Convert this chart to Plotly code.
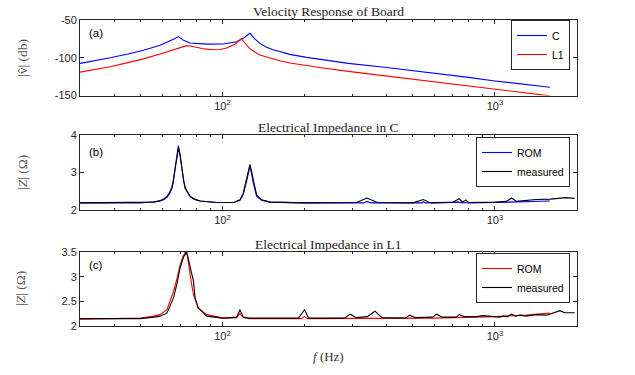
import plotly.graph_objects as go

# ---------------- data ----------------
# Panel (a): velocity response (dB)
fa_C = [30, 35, 38.7, 45, 51.3, 59, 64.2, 67, 68.9, 70.5, 72, 76, 87.5, 100.7, 112.7, 119.2, 123,
        126.1, 128.5, 131.4, 137.2, 145, 153.6, 176.7, 203.5, 234.2, 289.5, 400, 500, 650, 800,
        1000, 1250, 1590]
va_C = [-107.4, -103.5, -100, -95, -90, -83.5, -78, -74.5, -72, -75, -77, -80.5, -82, -81.7,
        -78.7, -74.3, -70.5, -67.5, -71, -75, -81, -86, -89.5, -95.5, -99.5, -103, -107.5, -113,
        -117, -122, -126, -130.7, -135, -139]
fa_L1 = [30, 35, 38.7, 45, 51.3, 59, 66.1, 70, 73.9, 77, 80.4, 86, 92.6, 98, 103.6, 111, 115.9,
         117.5, 119.5, 122.7, 126, 131.4, 137.2, 145.1, 153.6, 162.5, 176.7, 203.5, 234.2, 289.5,
         400, 500, 650, 800, 1000, 1250, 1590]
va_L1 = [-119, -115, -112, -106.5, -101.5, -95, -89, -86, -84, -84.8, -86.4, -88.3, -89.4, -89,
         -87.2, -82, -76.5, -74.8, -78.5, -84, -88, -92.3, -96.5, -99, -102, -104, -107, -110.5,
         -113.5, -118, -124, -128.5, -133.5, -137.5, -141.5, -146, -150.5]

# Panel (b): impedance in C
fb_rom = [30, 50, 56, 59, 61, 62.5, 64, 65.2, 66, 67, 68, 68.9, 69.8, 70.9, 72, 72.9, 74.5, 76,
          79, 82.8, 95, 110, 115.9, 119.2, 122.7, 124.5, 126.1, 127.8, 129.7, 133.4, 139.2,
          149.4, 200, 330, 339, 350, 540, 546, 555, 738, 760, 780, 800, 1000, 1150, 1300, 1590]
zb_rom = [2.19, 2.19, 2.22, 2.25, 2.3, 2.36, 2.47, 2.62, 2.8, 3.15, 3.5, 3.72, 3.5, 3.07, 2.78,
          2.58, 2.45, 2.36, 2.28, 2.24, 2.2, 2.2, 2.26, 2.42, 2.78, 2.98, 3.16, 2.98, 2.73, 2.37,
          2.26, 2.21, 2.19, 2.19, 2.23, 2.19, 2.19, 2.22, 2.19, 2.21, 2.19, 2.2, 2.19, 2.2, 2.21,
          2.22, 2.24]
fb_meas = [30, 50, 56, 59, 61, 62.5, 64, 65.2, 66, 67, 68, 68.9, 69.8, 70.9, 72, 72.9, 74.5, 76,
           79, 82.8, 95, 110, 115.9, 119.2, 122.7, 124.5, 126.1, 127.8, 129.7, 133.4, 139.2,
           149.4, 200, 310, 339, 370, 500, 546, 580, 700, 738, 760, 781, 800, 1000, 1100, 1151,
           1200, 1414, 1600, 1822, 1960]
zb_meas = [2.19, 2.19, 2.21, 2.24, 2.28, 2.34, 2.44, 2.58, 2.75, 3.08, 3.42, 3.65, 3.48, 3.08,
           2.8, 2.6, 2.46, 2.37, 2.29, 2.24, 2.2, 2.2, 2.27, 2.45, 2.85, 3.05, 3.22, 3.03, 2.78,
           2.4, 2.27, 2.21, 2.19, 2.2, 2.32, 2.2, 2.19, 2.28, 2.19, 2.2, 2.3, 2.21, 2.27, 2.2,
           2.21, 2.23, 2.32, 2.23, 2.28, 2.29, 2.33, 2.31]

# Panel (c): impedance in L1
fc_rom = [30, 50, 56, 59, 62.5, 66.1, 68, 69.9, 71.5, 73.3, 74.5, 76, 78.2, 81.5, 87.5, 100.7,
          112.7, 115.9, 119.2, 125, 195, 200, 205, 300, 600, 1000, 1300, 1590]
zc_rom = [2.14, 2.16, 2.2, 2.23, 2.33, 2.7, 2.95, 3.24, 3.4, 3.52, 3.4, 3.04, 2.64, 2.36, 2.23,
          2.16, 2.17, 2.25, 2.17, 2.15, 2.15, 2.19, 2.15, 2.15, 2.16, 2.19, 2.22, 2.26]
fc_meas = [30, 50, 56, 59, 62.5, 66.1, 68, 69.9, 72, 73.9, 75, 76, 77.5, 78.3, 79.3, 81.5, 83.9,
           87.5, 100, 112.7, 115.9, 119.2, 125, 190, 200, 207, 280, 294, 310, 340, 363, 385, 470,
           486, 510, 590, 611, 640, 720, 740, 770, 860, 903, 950, 1040, 1072, 1110, 1151, 1190,
           1234, 1300, 1414, 1550, 1730, 1800, 1960]
zc_meas = [2.15, 2.15, 2.18, 2.2, 2.26, 2.57, 2.85, 3.18, 3.4, 3.5, 3.35, 3.2, 2.99, 2.9, 2.57,
           2.36, 2.3, 2.2, 2.16, 2.18, 2.33, 2.18, 2.16, 2.16, 2.33, 2.16, 2.16, 2.24, 2.17, 2.19,
           2.3, 2.17, 2.16, 2.22, 2.17, 2.18, 2.24, 2.18, 2.18, 2.23, 2.19, 2.19, 2.21, 2.2, 2.18,
           2.2, 2.19, 2.24, 2.2, 2.22, 2.2, 2.23, 2.22, 2.31, 2.27, 2.27]

x_ticks = [100, 1000]
x_ticktext = ["10<sup>2</sup>", "10<sup>3</sup>"]
x_minor = [40, 50, 60, 70, 80, 90, 200, 300, 400, 500, 600, 700, 800, 900, 2000]

titles = ["Velocity Response of Board", "Electrical Impedance in C", "Electrical Impedance in L1"]
panel_tags = ["(a)", "(b)", "(c)"]

# ---------------- figure ----------------
fig = go.Figure()
lw = 1.1
fig.add_trace(go.Scatter(x=fa_C, y=va_C, mode="lines", name="C", line=dict(color="#0000FF", width=lw),
                         xaxis="x", yaxis="y", legend="legend"))
fig.add_trace(go.Scatter(x=fa_L1, y=va_L1, mode="lines", name="L1", line=dict(color="#FF0000", width=lw),
                         xaxis="x", yaxis="y", legend="legend"))
fig.add_trace(go.Scatter(x=fb_rom, y=zb_rom, mode="lines", name="ROM", line=dict(color="#0000FF", width=lw),
                         xaxis="x2", yaxis="y2", legend="legend2"))
fig.add_trace(go.Scatter(x=fb_meas, y=zb_meas, mode="lines", name="measured", line=dict(color="#000000", width=lw),
                         xaxis="x2", yaxis="y2", legend="legend2"))
fig.add_trace(go.Scatter(x=fc_rom, y=zc_rom, mode="lines", name="ROM", line=dict(color="#FF0000", width=lw),
                         xaxis="x3", yaxis="y3", legend="legend3"))
fig.add_trace(go.Scatter(x=fc_meas, y=zc_meas, mode="lines", name="measured", line=dict(color="#000000", width=lw),
                         xaxis="x3", yaxis="y3", legend="legend3"))

axcol = "#262626"
tickfont = dict(family="Liberation Sans, Arial", size=11, color="#262626")

def xax(domain_anchor):
    return dict(type="log", range=[1.4771, 3.3010], domain=[0, 1], anchor=domain_anchor,
                tickmode="array", tickvals=x_ticks, ticktext=x_ticktext,
                ticks="inside", ticklen=4, tickcolor=axcol, showline=True, linecolor=axcol,
                linewidth=1, mirror="ticks", showgrid=False, zeroline=False, tickfont=tickfont,
                minor=dict(ticks="inside", ticklen=2, tickcolor=axcol, tickmode="array",
                           tickvals=x_minor, showgrid=False))

def yax(dom, rng, tv, tt, xa):
    return dict(domain=dom, range=rng, anchor=xa, tickmode="array", tickvals=tv, ticktext=tt,
                ticks="inside", ticklen=4, tickcolor=axcol, showline=True, linecolor=axcol,
                linewidth=1, mirror="ticks", showgrid=False, zeroline=False, tickfont=tickfont)

H_T, H_B = 20, 49
ph = 375 - H_T - H_B
def clamp(v):
    return min(1.0, max(0.0, v))
def dom(top_px, bot_px):
    return [clamp((375 - H_B - bot_px) / ph), clamp((375 - H_B - top_px) / ph)]

fig.update_layout(
    width=635, height=375,
    margin=dict(l=80, r=58, t=H_T, b=H_B),
    paper_bgcolor="white", plot_bgcolor="white",
    xaxis=xax("y"), xaxis2=xax("y2"), xaxis3=xax("y3"),
    yaxis=yax(dom(20, 95.5), [-150, -50], [-150, -100, -50], ["-150", "-100", "-50"], "x"),
    yaxis2=yax(dom(135, 210), [2, 4], [2, 3, 4], ["2", "3", "4"], "x2"),
    yaxis3=yax(dom(252, 326), [2, 3.5], [2, 2.5, 3, 3.5], ["2", "2.5", "3", "3.5"], "x3"),
    showlegend=True,
)

def legend_at(top_px):
    return dict(x=(570 - 80) / 497, y=(375 - H_B - top_px) / ph, xanchor="right", yanchor="top",
                xref="paper", yref="paper", bgcolor="white", bordercolor=axcol, borderwidth=1,
                font=dict(family="Liberation Sans, Arial", size=10.5, color="#000"),
                tracegroupgap=0, itemwidth=30)

fig.update_layout(legend=legend_at(20), legend2=legend_at(137), legend3=legend_at(253))

serif = "Liberation Serif, Times New Roman, serif"
ann = []
for t, ypx in zip(titles, [11, 127, 244]):
    ann.append(dict(text=t, x=(328 - 80) / 497, y=(375 - H_B - ypx) / ph, xref="paper", yref="paper",
                    showarrow=False, font=dict(family=serif, size=13.5, color="#222"),
                    xanchor="center", yanchor="middle"))
for t, ypx in zip(panel_tags, [33, 152, 265]):
    ann.append(dict(text=t, x=(87 - 80) / 497, y=(375 - H_B - ypx) / ph, xref="paper", yref="paper",
                    showarrow=False, font=dict(family="Liberation Sans, Arial", size=11.5, color="#000"),
                    xanchor="left", yanchor="middle"))
ylabels = ["|v\u0302| (db)", "|<i>Z</i>| (\u03a9)", "|<i>Z</i>| (\u03a9)"]
for t, ypx, xpx in zip(ylabels, [58, 173, 289], [22, 22, 20]):
    ann.append(dict(text=t, x=(xpx - 80) / 497, y=(375 - H_B - ypx) / ph, xref="paper", yref="paper",
                    showarrow=False, textangle=-90, font=dict(family=serif, size=13.5, color="#555"),
                    xanchor="center", yanchor="middle"))
ann.append(dict(text="<i>f</i> (Hz)", x=(328 - 80) / 497, y=(375 - H_B - 356) / ph, xref="paper",
                yref="paper", showarrow=False, font=dict(family=serif, size=13, color="#333"),
                xanchor="center", yanchor="middle"))
fig.update_layout(annotations=ann)

fig.write_html("out.html", config={"displayModeBar": False},
               post_script="document.body.style.margin='0';document.body.style.padding='0';")
